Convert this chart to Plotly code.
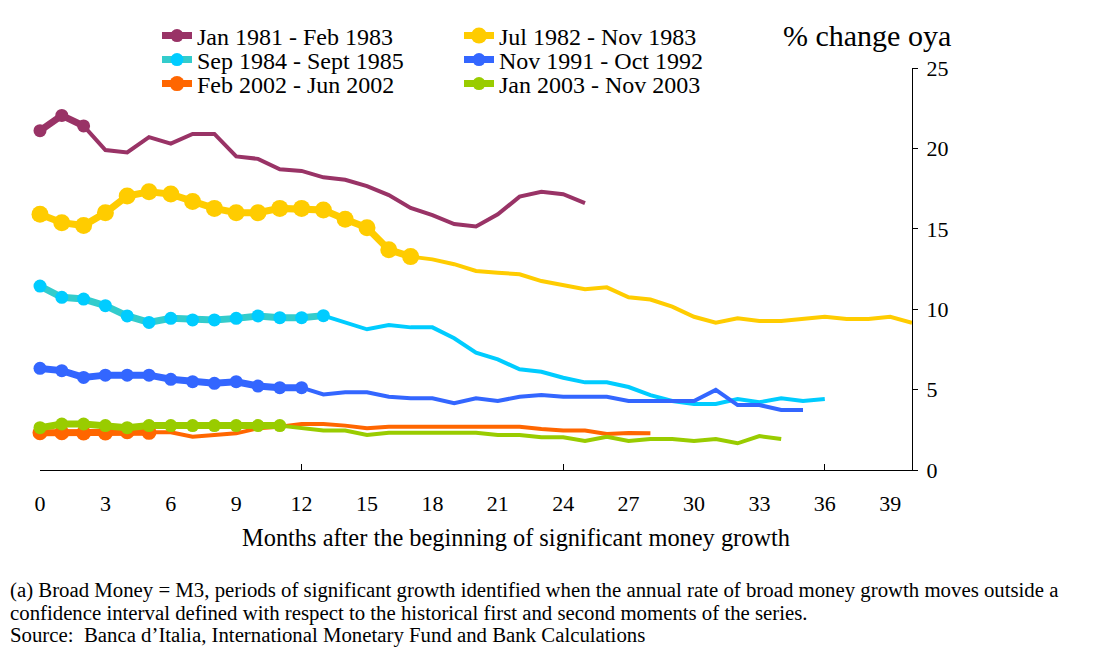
import plotly.graph_objects as go

# ---------------- data ----------------
months = list(range(41))
x_tick_vals = list(range(0, 40, 3))
x_major_ticks = [0, 12, 24, 36]
y_tick_vals = [0, 5, 10, 15, 20, 25]

names = ["Jan 1981 - Feb 1983", "Jul 1982 - Nov 1983", "Sep 1984 - Sept 1985",
         "Nov 1991 - Oct 1992", "Feb 2002 - Jun 2002", "Jan 2003 - Nov 2003"]

s_1981 = [21.1, 22.05, 21.4, 19.9, 19.75, 20.7, 20.3, 20.9, 20.9, 19.5, 19.35, 18.7, 18.6,
          18.2, 18.05, 17.65, 17.1, 16.3, 15.85, 15.3, 15.15, 15.9, 17.0, 17.3, 17.15, 16.6]
s_1982 = [15.9, 15.38, 15.2, 16.0, 17.04, 17.3, 17.16, 16.7, 16.27, 16.0, 16.0, 16.27, 16.27,
          16.17, 15.6, 15.07, 13.7, 13.27, 13.1, 12.8, 12.38, 12.27, 12.17, 11.75, 11.5, 11.24,
          11.36, 10.74, 10.6, 10.16, 9.53, 9.16, 9.43, 9.27, 9.27, 9.39, 9.53, 9.39, 9.39, 9.53, 9.16]
s_1984 = [11.44, 10.74, 10.63, 10.22, 9.58, 9.18, 9.43, 9.33, 9.33, 9.43, 9.58, 9.47, 9.47,
          9.6, 9.18, 8.75, 9.02, 8.87, 8.87, 8.19, 7.3, 6.88, 6.26, 6.11, 5.74, 5.45, 5.45,
          5.16, 4.66, 4.29, 4.1, 4.1, 4.42, 4.21, 4.46, 4.29, 4.42]
s_1991 = [6.32, 6.18, 5.76, 5.9, 5.9, 5.9, 5.64, 5.49, 5.39, 5.49, 5.22, 5.12, 5.12, 4.7,
          4.83, 4.83, 4.56, 4.46, 4.46, 4.15, 4.46, 4.29, 4.56, 4.66, 4.56, 4.56, 4.56, 4.29,
          4.29, 4.29, 4.29, 4.98, 4.04, 4.04, 3.73, 3.73]
s_2002 = [2.32, 2.32, 2.3, 2.3, 2.38, 2.34, 2.34, 2.07, 2.18, 2.28, 2.59, 2.69, 2.86, 2.86,
          2.76, 2.59, 2.69, 2.69, 2.69, 2.69, 2.69, 2.69, 2.69, 2.55, 2.45, 2.45, 2.24, 2.3, 2.28]
s_2003 = [2.63, 2.86, 2.86, 2.76, 2.63, 2.76, 2.76, 2.76, 2.76, 2.76, 2.76, 2.76, 2.59, 2.45,
          2.45, 2.18, 2.32, 2.32, 2.32, 2.32, 2.32, 2.18, 2.18, 2.03, 2.03, 1.8, 2.07, 1.8,
          1.93, 1.93, 1.8, 1.93, 1.66, 2.11, 1.93]

# number of months in each highlighted (marked) period
highlight_len = [3, 18, 14, 13, 6, 12]

footnote_lines = [
    "(a) Broad Money = M3, periods of significant growth identified when the annual rate of broad money growth moves outside a",
    "confidence interval defined with respect to the historical first and second moments of the series.",
    "Source:  Banca d\u2019Italia, International Monetary Fund and Bank Calculations",
]

series = [s_1981, s_1982, s_1984, s_1991, s_2002, s_2003]
line_colors = ["#993366", "#FFCC00", "#33CCCC", "#3366FF", "#FF6600", "#99CC00"]
marker_colors = ["#993366", "#FFCC00", "#00CCFF", "#3366FF", "#FF6600", "#99CC00"]
tail_colors = ["#993366", "#FFCC00", "#00CCFF", "#3366FF", "#FF6600", "#99CC00"]
marker_sizes = [13, 17, 13, 13, 15, 13]
legend_ids = ["legend", "legend", "legend2", "legend2", "legend3", "legend3"]

FONT = "Liberation Serif"

fig = go.Figure()

# continuation (thin) lines on the base x axis
for vals, n, col in zip(series, highlight_len, tail_colors):
    fig.add_trace(go.Scatter(
        x=months[n - 1:len(vals)], y=vals[n - 1:], mode="lines",
        line=dict(color=col, width=4), showlegend=False, hoverinfo="skip",
        cliponaxis=False, xaxis="x", yaxis="y"))

# highlighted periods (thick line + markers) on the overlaid, labelled x axis
for i in range(len(series)):
    vals, n = series[i], highlight_len[i]
    fig.add_trace(go.Scatter(
        x=months[:n], y=vals[:n], mode="lines+markers", name=names[i],
        line=dict(color=line_colors[i], width=7),
        marker=dict(color=marker_colors[i], size=marker_sizes[i]),
        legend=legend_ids[i], cliponaxis=False, xaxis="x2", yaxis="y"))

# page offset (the browser body margin) compensation
OFF = 8
W, H = 1094 - OFF, 649 - OFF
PX0, PX1, PY0, PY1 = 40, 912, 68, 470       # plot area in page pixels
L, T = PX0 - OFF, PY0 - OFF
pw, ph = PX1 - PX0, PY1 - PY0
R, B = W - L - pw, H - T - ph


def px_x(px):
    return (px - PX0) / pw


def px_y(py):
    return (PY1 - py) / ph


leg_common = dict(orientation="h", xanchor="left", yanchor="middle",
                  entrywidth=257, entrywidthmode="pixels",
                  font=dict(family=FONT, size=24, color="black"),
                  bgcolor="rgba(0,0,0,0)", itemwidth=30, tracegroupgap=0)

fig.update_layout(
    width=W, height=H,
    margin=dict(l=L, r=R, t=T, b=B, autoexpand=False),
    plot_bgcolor="white", paper_bgcolor="white",
    font=dict(family=FONT, color="black"),
    showlegend=True,
    legend=dict(x=px_x(157), y=px_y(36), **leg_common),
    legend2=dict(x=px_x(157), y=px_y(60), **leg_common),
    legend3=dict(x=px_x(157), y=px_y(84), **leg_common),
    xaxis=dict(range=[0, 40], showgrid=False, zeroline=False, showline=True,
               linecolor="black", linewidth=1, tickvals=x_major_ticks,
               ticks="inside", ticklen=6, tickcolor="black", showticklabels=False),
    xaxis2=dict(range=[0, 40], overlaying="x", side="bottom", showgrid=False,
                zeroline=False, showline=False, tickvals=x_tick_vals, ticks="",
                ticklabelstandoff=18, tickfont=dict(family=FONT, size=22, color="black")),
    yaxis=dict(range=[0, 25], side="right", showgrid=False, zeroline=False,
               showline=True, linecolor="black", linewidth=1, tickvals=y_tick_vals,
               ticks="outside", ticklen=5, tickcolor="black", ticklabelstandoff=4,
               tickfont=dict(family=FONT, size=22, color="black")),
    annotations=[
        dict(text="% change oya", x=px_x(867), y=px_y(36), xref="paper", yref="paper",
             showarrow=False, font=dict(family=FONT, size=30, color="black"),
             xanchor="center", yanchor="middle"),
        dict(text="Months after the beginning of significant money growth",
             x=px_x(516), y=px_y(537), xref="paper", yref="paper", showarrow=False,
             font=dict(family=FONT, size=24.4, color="black"),
             xanchor="center", yanchor="middle"),
    ] + [
        dict(text=t, x=px_x(8), y=px_y(590 + 22.5 * k), xref="paper", yref="paper",
             showarrow=False, align="left", xanchor="left", yanchor="middle",
             font=dict(family=FONT, size=20.8, color="black"))
        for k, t in enumerate(footnote_lines)
    ],
    shapes=[dict(type="line", xref="paper", yref="paper", x0=px_x(0), x1=px_x(1094),
                 y0=px_y(1), y1=px_y(1), line=dict(color="black", width=2))],
)

fig.write_html("out.html")
